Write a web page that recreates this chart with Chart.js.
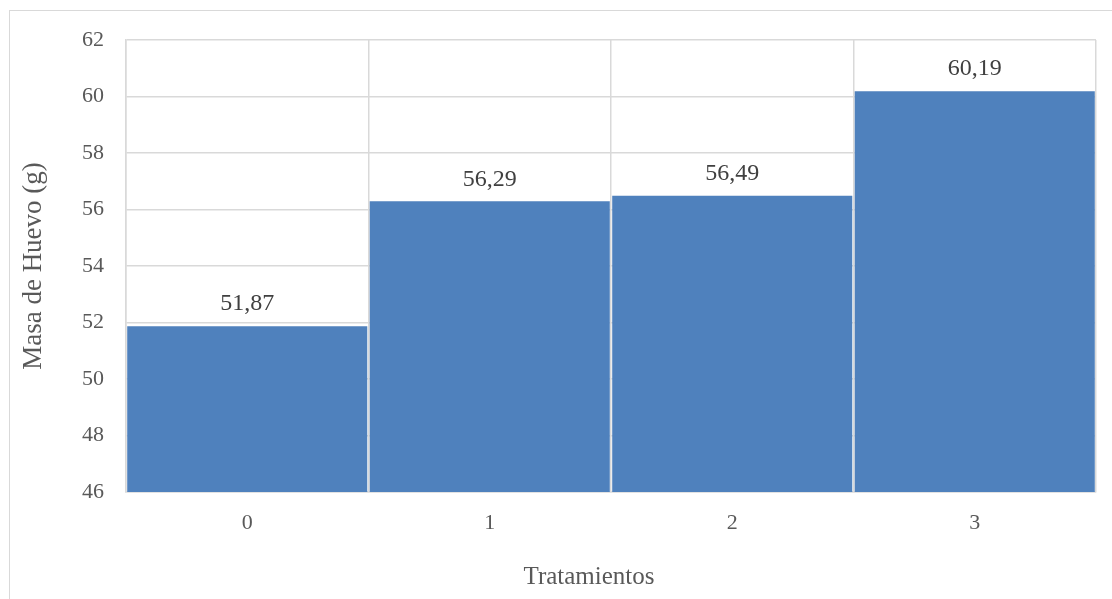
<!DOCTYPE html>
<html>
<head>
<meta charset="utf-8">
<script src="https://cdn.jsdelivr.net/npm/chart.js@4"></script>
<style>
    html, body { margin: 0; padding: 0; background: #fff; overflow: hidden; }
    #frame { position: absolute; left: 9px; top: 10px; width: 1200px; height: 700px; border: 1px solid #d9d9d9; }
    #wrap { position: absolute; left: 0; top: 0; width: 1112px; height: 599px; }
</style>
</head>
<body>
<div id="frame"></div>
<div id="wrap"><canvas id="chart-eggs"></canvas></div>
<script>
// Masa de huevo por tratamiento
const treatments = ['0', '1', '2', '3'];
const eggMass = [51.87, 56.29, 56.49, 60.19];
const yTicks = [46, 48, 50, 52, 54, 56, 58, 60, 62];
const xTitle = 'Tratamientos';

const serif = "'Liberation Serif', 'Times New Roman', serif";

// value labels above each bar (decimal comma) + x axis title a bit left of center
const barLabels = {
    id: 'barLabels',
    afterDatasetsDraw(chart) {
        const ctx = chart.ctx;
        const meta = chart.getDatasetMeta(0);
        ctx.save();
        ctx.font = `24px ${serif}`;
        ctx.fillStyle = '#404040';
        ctx.textAlign = 'center';
        ctx.textBaseline = 'middle';
        meta.data.forEach((bar, i) => {
            ctx.fillText(eggMass[i].toFixed(2).replace('.', ','), bar.x, bar.y - 22);
        });

        const area = chart.chartArea;
        ctx.font = `25px ${serif}`;
        ctx.fillStyle = '#595959';
        ctx.fillText(xTitle, (area.left + area.right) / 2 - 22, chart.height - 22);
        ctx.restore();
    },
};

new Chart(document.getElementById('chart-eggs'), {
    type: 'bar',
    data: {
        labels: treatments,
        datasets: [{
            data: eggMass,
            backgroundColor: '#4f81bd',
            borderWidth: 0,
            barPercentage: 0.99,
            categoryPercentage: 1,
        }],
    },
    options: {
        responsive: true,
        maintainAspectRatio: false,
        animation: false,
        layout: { padding: { top: 40, right: 16, left: 0, bottom: 0 } },
        plugins: {
            legend: { display: false },
            tooltip: { enabled: false },
        },
        scales: {
            x: {
                grid: { color: '#d9d9d9', lineWidth: 1.5, drawTicks: false, offset: true },
                border: { color: '#d9d9d9', width: 1.5 },
                ticks: { color: '#595959', font: { family: serif, size: 22 }, padding: 18 },
                afterFit: (scale) => { scale.height = 107; },
            },
            y: {
                min: 46,
                max: 62,
                afterBuildTicks: (scale) => { scale.ticks = yTicks.map(v => ({ value: v })); },
                grid: { color: '#d9d9d9', lineWidth: 1.5, drawTicks: false },
                border: { color: '#d9d9d9', width: 1.5 },
                ticks: { color: '#595959', font: { family: serif, size: 22 }, padding: 22 },
                title: {
                    display: true,
                    text: 'Masa de Huevo (g)',
                    color: '#595959',
                    font: { family: serif, size: 27 },
                    padding: { top: 18, bottom: 0 },
                },
                afterFit: (scale) => { scale.width = 126; },
            },
        },
    },
    plugins: [barLabels],
});
</script>
</body>
</html>
